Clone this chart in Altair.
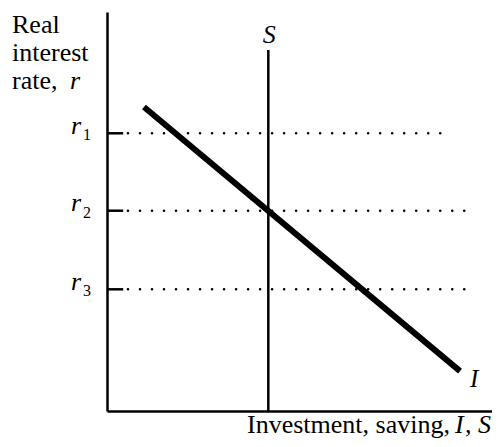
import altair as alt
import pandas as pd

# ---- data ----
r_names = ["1", "2", "3"]
r_levels = [69.6, 50.2, 30.5]
tick_end = [4.2, 4.2, 4.2]
dot_start = [5.45, 5.45, 5.45]
dot_end = [87.0, 93.5, 93.5]

s_x = [41.9]
s_bottom = [0.0]
s_top = [90.5]

i_x = [9.6, 91.7]
i_y = [76.2, 10.0]

y_title_lines = ["Real", "interest", "rate,"]
y_title_base = [21.0, 48.7, 76.5]
x_title = "Investment, saving,"

FONT = "Liberation Serif"

levels = pd.DataFrame({"name": r_names, "r": r_levels, "x0": [0.0] * 3,
                       "x1": tick_end, "d0": dot_start, "d1": dot_end})
s_df = pd.DataFrame({"x": s_x, "y0": s_bottom, "y1": s_top})
i_df = pd.DataFrame({"x": i_x, "y": i_y})
one = pd.DataFrame({"k": [0]})

xs = alt.Scale(domain=[0, 100], nice=False, zero=False)
ys = alt.Scale(domain=[0, 100], nice=False, zero=False)
ax = alt.Axis(domain=True, domainColor="black", domainWidth=2.5, ticks=False,
              labels=False, grid=False)


def X(f):
    return alt.X(f, scale=xs, axis=ax, title="")


def Y(f):
    return alt.Y(f, scale=ys, axis=ax, title="")


def label(txt, px, py, size=26, italic=False):
    kw = dict(font=FONT, fontSize=size, align="left", baseline="alphabetic",
              color="black")
    if italic:
        kw["fontStyle"] = "italic"
    return alt.Chart(one).mark_text(**kw).encode(
        x=alt.value(px), y=alt.value(py), text=alt.value(txt))


ticks = alt.Chart(levels).mark_rule(color="black", strokeWidth=2.5).encode(
    x=X("x0:Q"), x2="x1:Q", y=Y("r:Q"))

dots = alt.Chart(levels).mark_rule(color="black", strokeWidth=2.6,
                                   strokeDash=[0.01, 12], strokeCap="round").encode(
    x=X("d0:Q"), x2="d1:Q", y=Y("r:Q"))

s_line = alt.Chart(s_df).mark_rule(color="black", strokeWidth=2.5).encode(
    x=X("x:Q"), y=Y("y0:Q"), y2="y1:Q")

i_line = alt.Chart(i_df).mark_line(color="black", strokeWidth=6, strokeCap="butt").encode(
    x=X("x:Q"), y=Y("y:Q"))

r_sym = alt.Chart(levels).mark_text(font=FONT, fontSize=26, fontStyle="italic",
                                    align="left", baseline="alphabetic", dy=0.5,
                                    color="black").encode(
    x=alt.value(-36), y=Y("r:Q"), text=alt.value("r"))

r_sub = alt.Chart(levels).mark_text(font=FONT, fontSize=16, align="left",
                                    baseline="alphabetic", dy=7, color="black").encode(
    x=alt.value(-24), y=Y("r:Q"), text="name:N")

s_lab = alt.Chart(s_df).mark_text(font=FONT, fontSize=26, fontStyle="italic",
                                  align="center", baseline="alphabetic", dy=-7, dx=1,
                                  color="black").encode(
    x=X("x:Q"), y=Y("y1:Q"), text=alt.value("S"))

i_lab = alt.Chart(i_df.tail(1)).mark_text(font=FONT, fontSize=25, fontStyle="italic",
                                          align="left", baseline="alphabetic", dx=10, dy=16,
                                          color="black").encode(
    x=X("x:Q"), y=Y("y:Q"), text=alt.value("I"))

title_layers = [label(t, -95, b, size=26) for t, b in zip(y_title_lines, y_title_base)]
title_layers.append(label("r", -37, y_title_base[2], size=26, italic=True))

XB = 421
title_layers += [
    label(x_title, 140, XB),
    label("I", 348, XB, italic=True),
    label(",", 358, XB),
    label("S", 371, XB, italic=True),
]

chart = alt.layer(
    ticks, dots, s_line, i_line, r_sym, r_sub, s_lab, i_lab, *title_layers
).properties(
    width=385, height=399,
    padding={"left": 99, "top": 4, "right": 0, "bottom": 28},
    autosize=alt.AutoSizeParams(type="none"),
    background="white",
).configure_view(stroke=None)

chart.save("out.html", embed_options={"renderer": "svg", "actions": False})
